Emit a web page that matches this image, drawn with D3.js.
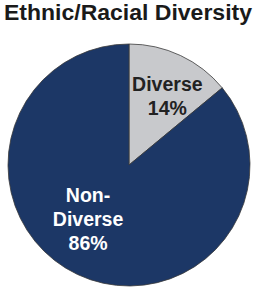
<!DOCTYPE html>
<html>
<head>
<meta charset="utf-8">
<script src="https://cdn.jsdelivr.net/npm/d3@7"></script>
<style>
  body { margin: 0; background: #fff; }
  text { font-family: "Liberation Sans", Arial, Helvetica, sans-serif; font-weight: 700; }
</style>
</head>
<body>
<div id="chart_area"></div>
<script>
var width = 256
var height = 288

// data
var categories = ["Diverse", "Non-Diverse"]
var values = [14, 86]
var labelLines = [["Diverse", "14%"], ["Non-", "Diverse", "86%"]]
var colors = ["#c8c9cc", "#1c3766"]
var textColors = ["#222222", "#ffffff"]

var cx = 129
var cy = 165
var radius = 121

var svg = d3.select("#chart_area")
  .append("svg")
  .attr("width", width)
  .attr("height", height)

// title
svg.append("text")
  .attr("x", 128)
  .attr("y", 20)
  .attr("text-anchor", "middle")
  .attr("fill", "#1a1a1a")
  .style("font-size", "22px")
  .attr("textLength", 248)
  .attr("lengthAdjust", "spacingAndGlyphs")
  .text("Ethnic/Racial Diversity")

var pie = d3.pie().sort(null).value(d => d)
var arcs = pie(values)

var arc = d3.arc().innerRadius(0).outerRadius(radius)

var g = svg.append("g")
  .attr("transform", "translate(" + cx + "," + cy + ")")

g.selectAll("path")
  .data(arcs)
  .enter()
  .append("path")
  .attr("d", arc)
  .attr("fill", (d, i) => colors[i])
  .attr("stroke", "#3a3a3a")
  .attr("stroke-width", 0.8)

// labels: placed along each slice's mid angle, nudged to match the layout
var labelPos = [
  {r: 76, dx: 6, dy: 0},
  {r: 68, dx: -12, dy: -8}
]

arcs.forEach((d, i) => {
  var mid = (d.startAngle + d.endAngle) / 2
  var lx = Math.sin(mid) * labelPos[i].r + labelPos[i].dx
  var ly = -Math.cos(mid) * labelPos[i].r + labelPos[i].dy
  var lines = labelLines[i]
  var lh = 24
  var t = g.append("text")
    .attr("text-anchor", "middle")
    .attr("fill", textColors[i])
    .style("font-size", "19.5px")
  lines.forEach((line, j) => {
    t.append("tspan")
      .attr("x", lx)
      .attr("y", ly + (j - (lines.length - 1) / 2) * lh + 7)
      .text(line)
  })
})
</script>
</body>
</html>
